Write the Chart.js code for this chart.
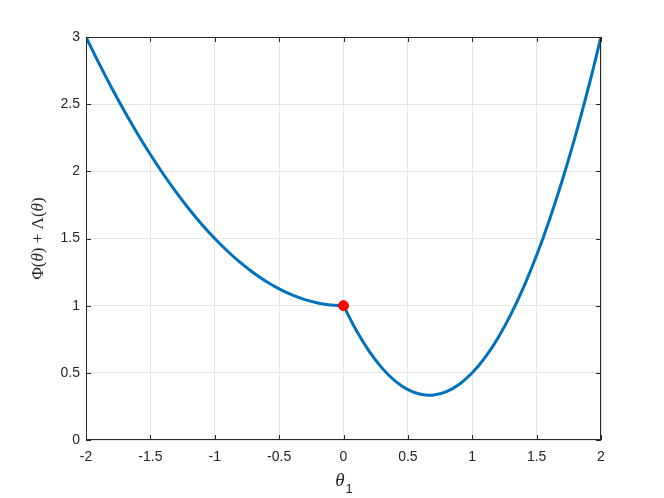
<!DOCTYPE html>
<html>
<head>
<meta charset="utf-8">
<script src="https://cdn.jsdelivr.net/npm/chart.js@4"></script>
<style>
  html, body { margin: 0; padding: 0; background: #fff; }
</style>
</head>
<body>
<canvas id="costChart" width="664" height="498"></canvas>
<script>
// theta_1 values and the cost
const thetaValues = [-2, -1.9, -1.8, -1.7, -1.6, -1.5, -1.4, -1.3, -1.2, -1.1, -1,
    -0.9, -0.8, -0.7, -0.6, -0.5, -0.4, -0.3, -0.2, -0.1, 0,
    0.1, 0.2, 0.3, 0.4, 0.5, 0.6, 0.7, 0.8, 0.9, 1,
    1.1, 1.2, 1.3, 1.4, 1.5, 1.6, 1.7, 1.8, 1.9, 2];
const costValues = [3.000, 2.805, 2.620, 2.445, 2.280, 2.125, 1.980, 1.845, 1.720, 1.605, 1.500,
    1.405, 1.320, 1.245, 1.180, 1.125, 1.080, 1.045, 1.020, 1.005, 1.000,
    0.815, 0.660, 0.535, 0.440, 0.375, 0.340, 0.335, 0.360, 0.415, 0.500,
    0.615, 0.760, 0.935, 1.140, 1.375, 1.640, 1.935, 2.260, 2.615, 3.000];
const markerPoint = [{ x: 0, y: 1 }];
const xTicks = [-2, -1.5, -1, -0.5, 0, 0.5, 1, 1.5, 2];
const yTicks = [0, 0.5, 1, 1.5, 2, 2.5, 3];

const axisColor = '#262626';
const kinkIndex = thetaValues.indexOf(0);
const curvePoints = thetaValues.map((t, i) => ({ x: t, y: costValues[i] }));

// box round the axes, inward tick marks and the math axis labels
const matlabAxes = {
    id: 'matlabAxes',
    beforeInit(chart) {
        chart.ctx.letterSpacing = '1.5px';
    },
    afterDraw(chart) {
        const c = chart.ctx;
        const a = chart.chartArea;
        const xs = chart.scales.x, ys = chart.scales.y;
        c.save();
        c.letterSpacing = '0px';
        c.strokeStyle = axisColor;
        c.lineWidth = 1;
        c.strokeRect(a.left + 0.5, a.top + 0.5, a.right - a.left - 1, a.bottom - a.top - 1);
        c.beginPath();
        xTicks.forEach(v => {
            const px = Math.round(xs.getPixelForValue(v)) + 0.5;
            c.moveTo(px, a.bottom); c.lineTo(px, a.bottom - 5);
            c.moveTo(px, a.top); c.lineTo(px, a.top + 5);
        });
        yTicks.forEach(v => {
            const py = Math.round(ys.getPixelForValue(v)) + 0.5;
            c.moveTo(a.left, py); c.lineTo(a.left + 5, py);
            c.moveTo(a.right, py); c.lineTo(a.right - 5, py);
        });
        c.stroke();

        c.fillStyle = axisColor;
        c.textBaseline = 'alphabetic';
        // x label: theta_1
        const cx = (a.left + a.right) / 2;
        c.font = 'italic 19px "Liberation Serif"';
        const wT = c.measureText('θ').width;
        c.font = '13px "Liberation Sans"';
        const w1 = c.measureText('1').width;
        let x0 = cx - (wT + w1) / 2;
        c.font = 'italic 19px "Liberation Serif"';
        c.fillText('θ', x0, 486);
        c.font = '13px "Liberation Sans"';
        c.fillText('1', x0 + wT + 1, 493);

        // y label: Phi(theta) + Lambda(theta)
        const parts = [
            ['Φ(', '17px "Liberation Serif"'],
            ['θ', 'italic 17px "Liberation Serif"'],
            [') + Λ(', '17px "Liberation Serif"'],
            ['θ', 'italic 17px "Liberation Serif"'],
            [')', '17px "Liberation Serif"']
        ];
        let total = 0;
        parts.forEach(p => { c.font = p[1]; total += c.measureText(p[0]).width; });
        c.translate(43, (a.top + a.bottom) / 2);
        c.rotate(-Math.PI / 2);
        let pos = -total / 2;
        parts.forEach(p => {
            c.font = p[1];
            c.fillText(p[0], pos, 0);
            pos += c.measureText(p[0]).width;
        });
        c.restore();
    }
};

const curveStyle = {
    borderColor: '#0072bd',
    borderWidth: 3,
    pointRadius: 0,
    tension: 0.4,
    fill: false,
    order: 1
};

const ctx = document.getElementById('costChart').getContext('2d');
let costChart = new Chart(ctx, {
    type: 'line',
    data: {
        datasets: [{
            label: 'marker',
            data: markerPoint,
            showLine: false,
            pointRadius: 5,
            pointBackgroundColor: '#ff0000',
            pointBorderColor: '#ff0000',
            order: 0
        }, Object.assign({
            label: 'cost left',
            data: curvePoints.slice(0, kinkIndex + 1)
        }, curveStyle), Object.assign({
            label: 'cost right',
            data: curvePoints.slice(kinkIndex)
        }, curveStyle)]
    },
    options: {
        responsive: false,
        animation: false,
        layout: { padding: { left: 0, right: 63, top: 37, bottom: 0 } },
        plugins: {
            legend: { display: false },
            tooltip: { enabled: false }
        },
        scales: {
            x: {
                type: 'linear',
                min: -2,
                max: 2,
                afterFit: s => { s.height = 58; },
                afterBuildTicks: s => { s.ticks = xTicks.map(v => ({ value: v })); },
                grid: { color: '#e5e5e5', drawTicks: false },
                border: { display: false },
                ticks: {
                    color: axisColor,
                    font: { family: 'Liberation Sans', size: 14 },
                    padding: 9,
                    maxRotation: 0,
                    callback: v => String(v)
                }
            },
            y: {
                min: 0,
                max: 3,
                afterFit: s => { s.width = 86; },
                afterBuildTicks: s => { s.ticks = yTicks.map(v => ({ value: v })); },
                grid: { color: '#e5e5e5', drawTicks: false },
                border: { display: false },
                ticks: {
                    color: axisColor,
                    font: { family: 'Liberation Sans', size: 14 },
                    padding: 6,
                    callback: v => String(v)
                }
            }
        }
    },
    plugins: [matlabAxes]
});
</script>
</body>
</html>
